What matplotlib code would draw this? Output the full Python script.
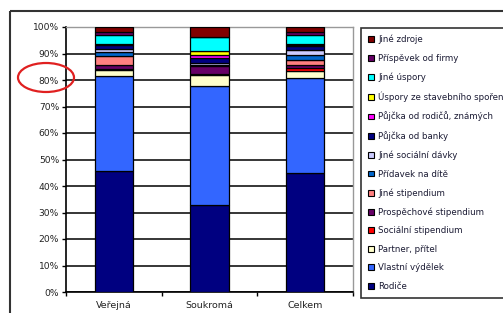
import matplotlib
matplotlib.use("Agg")
import matplotlib.pyplot as plt
from matplotlib.patches import Patch, Rectangle, Ellipse
from matplotlib.transforms import Affine2D
import numpy as np

plt.rcParams['font.family'] = ['DejaVu Sans']

categories = ['Veřejná', 'Soukromá', 'Celkem']

# series listed bottom -> top
series_names = ['Rodiče', 'Vlastní výdělek', 'Partner, přítel', 'Sociální stipendium',
                'Prospěchové stipendium', 'Jiné stipendium', 'Přídavek na dítě',
                'Jiné sociální dávky', 'Půjčka od banky', 'Půjčka od rodičů, známých',
                'Úspory ze stavebního spoření', 'Jiné úspory', 'Příspěvek od firmy', 'Jiné zdroje']
rodice = [45.7, 32.8, 45.0]
vydelek = [35.8, 44.9, 35.9]
partner = [2.4, 4.3, 2.4]
socialni = [0.3, 0.3, 1.2]
prospech = [1.6, 3.0, 1.2]
jine_stip = [3.3, 0.3, 2.0]
pridavek = [1.5, 0.2, 1.9]
jine_davky = [1.0, 0.8, 1.9]
banka = [1.6, 1.8, 1.5]
pujcka_rodice = [0.3, 1.0, 0.3]
stavebni = [0.2, 1.5, 0.3]
jine_uspory = [3.2, 5.2, 3.2]
firma = [1.2, 0.3, 1.2]
jine_zdroje = [1.9, 3.6, 2.0]
series_values = [rodice, vydelek, partner, socialni, prospech, jine_stip, pridavek,
                 jine_davky, banka, pujcka_rodice, stavebni, jine_uspory, firma, jine_zdroje]
colors = ['#000080', '#3366FF', '#FFFFCC', '#FF0000', '#660066', '#FF8080', '#0066CC',
          '#CCCCFF', '#000080', '#FF00FF', '#FFFF00', '#00FFFF', '#660066', '#800000']
yticks = [0, 10, 20, 30, 40, 50, 60, 70, 80, 90, 100]

W, H = 503, 313
fig = plt.figure(figsize=(W / 100, H / 100), dpi=100)
ax = fig.add_axes([66 / W, 1 - 292 / H, (353 - 66) / W, (292 - 27) / H])

x = np.arange(len(categories))
bottom = np.zeros(len(categories))
for name, vals, col in zip(series_names, series_values, colors):
    v = np.array(vals)
    ax.bar(x, v, width=0.40, bottom=bottom, color=col, edgecolor='black', linewidth=0.9,
           label=name, zorder=3)
    bottom += v

ax.set_xlim(-0.5, 2.5)
ax.set_ylim(0, 100)
ax.set_yticks(yticks)
ax.set_yticklabels([f'{t}%' for t in yticks], fontsize=6.6, color='#222222')
ax.yaxis.grid(True, color='black', linewidth=1.1, zorder=0)
ax.set_axisbelow(True)
ax.tick_params(axis='y', length=3, width=1, pad=2.0, direction='out')
ax.set_xticks(x)
ax.set_xticklabels(categories, fontsize=6.8, color='#222222')
ax.tick_params(axis='x', which='major', length=0, pad=6.5)
ax.set_xticks([-0.5, 0.5, 1.5, 2.5], minor=True)
ax.tick_params(axis='x', which='minor', length=3, width=1, direction='out')
for s in ['left', 'bottom']:
    ax.spines[s].set_color('black')
    ax.spines[s].set_linewidth(1.2)
for s in ['top', 'right']:
    ax.spines[s].set_color('#999999')
    ax.spines[s].set_linewidth(1.0)

handles = [Patch(facecolor=c, edgecolor='black', linewidth=0.8) for c in colors][::-1]
labels = series_names[::-1]
leg = fig.legend(handles, labels, loc='upper left', bbox_to_anchor=(361 / W, 1 - 28 / H),
                 fontsize=6.2, frameon=True, fancybox=False, edgecolor='black',
                 handlelength=0.68, handleheight=0.68, handletextpad=0.5,
                 labelspacing=1.11, borderpad=0.8, borderaxespad=0)
leg.get_frame().set_linewidth(1.2)
for t in leg.get_texts():
    t.set_color('#1a1a33')

pix = Affine2D().scale(1 / W, -1 / H).translate(0, 1) + fig.transFigure
fig.add_artist(Rectangle((10, 11), 600, 400, fill=False, edgecolor='#333333',
                         linewidth=1.5, transform=pix))
fig.add_artist(Ellipse((46, 77.5), 56, 29, fill=False, edgecolor='#E02020',
                       linewidth=1.6, transform=pix))

fig.savefig('out.png', dpi=100)
